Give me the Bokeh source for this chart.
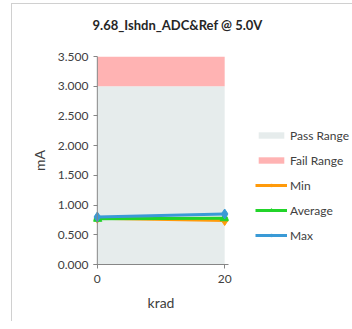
from bokeh.plotting import figure
from bokeh.models import Range1d, Legend, LegendItem, FixedTicker, NumeralTickFormatter, Title, Span
from bokeh.embed import file_html
from bokeh.resources import INLINE

# data
krad = [0, 20]
min_vals = [0.78, 0.74]
avg_vals = [0.77, 0.78]
max_vals = [0.80, 0.85]
pass_lo, pass_hi = 0.0, 3.0
fail_lo, fail_hi = 3.0, 3.5
y_ticks = [0.0, 0.5, 1.0, 1.5, 2.0, 2.5, 3.0, 3.5]
x_ticks = [0, 20]

FONT = "Lato"
GRAY = "#868686"
TXT = "#404040"
PAD = 0.6

p = figure(output_backend="svg", toolbar_location=None,
           frame_width=135, frame_height=208,
           min_border_left=81, min_border_top=52, min_border_bottom=57, min_border_right=0,
           x_range=Range1d(krad[0] - PAD, krad[-1] + PAD), y_range=Range1d(0, 3.5),
           background_fill_color="white", border_fill_color="white",
           outline_line_color=None,
           styles={"border-left": "1px solid #D0D0D0", "border-top": "1px solid #D0D0D0",
                   "margin-left": "11px", "margin-top": "3px"})

spacer = Title(text=" ", text_font_size="1px", standoff=13)
p.add_layout(spacer, "above")
t = Title(text="9.68_Ishdn_ADC&Ref @ 5.0V", align="left", offset=-1,
          text_font=FONT, text_font_size="13px", text_font_style="bold",
          text_color="#262626", standoff=16)
p.add_layout(t, "above")

p.grid.visible = False

r_pass = p.varea(x=krad, y1=[pass_lo] * len(krad), y2=[pass_hi] * len(krad), fill_color="#E6ECEC")
r_fail = p.varea(x=krad, y1=[fail_lo] * len(krad), y2=[fail_hi] * len(krad), fill_color="#FFB3B3")

p.add_layout(Span(location=krad[0], dimension="height", line_color=GRAY, line_width=1))

r_min_l = p.line(krad, min_vals, line_color="#FF9A0A", line_width=3)
r_min_m = p.scatter(krad, min_vals, marker="diamond", size=10, fill_color="#FF9A0A", line_color="#FF9A0A")
r_avg_l = p.line(krad, avg_vals, line_color="#22D42A", line_width=3)
r_avg_m = p.scatter(krad, avg_vals, marker="triangle", size=9, fill_color="#22D42A", line_color="#22D42A")
r_max_l = p.line(krad, max_vals, line_color="#3A9AD6", line_width=3)
r_max_m = p.scatter(krad, max_vals, marker="diamond", size=10, fill_color="#3A9AD6", line_color="#3A9AD6")

legend = Legend(items=[
    LegendItem(label="Pass Range", renderers=[r_pass]),
    LegendItem(label="Fail Range", renderers=[r_fail]),
    LegendItem(label="Min", renderers=[r_min_l, r_min_m]),
    LegendItem(label="Average", renderers=[r_avg_l, r_avg_m]),
    LegendItem(label="Max", renderers=[r_max_l, r_max_m]),
], location=(27, 19), margin=0, padding=0, spacing=5,
   glyph_width=32, glyph_height=8, label_height=20, label_standoff=3,
   label_text_font=FONT, label_text_font_size="12px", label_text_color=TXT,
   border_line_color=None, background_fill_alpha=0)
p.add_layout(legend, "right")

p.yaxis.ticker = FixedTicker(ticks=y_ticks)
p.yaxis.formatter = NumeralTickFormatter(format="0.000")
p.xaxis.ticker = FixedTicker(ticks=x_ticks)
for ax in (p.xaxis, p.yaxis):
    ax.axis_line_color = GRAY
    ax.major_tick_line_color = GRAY
    ax.minor_tick_line_color = None
    ax.major_label_text_font = FONT
    ax.major_label_text_font_size = "12px"
    ax.major_label_text_color = TXT
    ax.axis_label_text_font = FONT
    ax.axis_label_text_font_size = "14px"
    ax.axis_label_text_font_style = "normal"
    ax.axis_label_text_color = TXT
p.xaxis.major_tick_out = 4
p.xaxis.major_tick_in = 0
p.yaxis.axis_line_color = None
p.yaxis.major_tick_out = 0
p.yaxis.major_tick_in = 4
p.yaxis.axis_label = "mA"
p.xaxis.axis_label = "krad"
p.yaxis.major_label_standoff = 5
p.xaxis.major_label_standoff = 6
p.xaxis.axis_label_standoff = 8
p.yaxis.axis_label_standoff = 7

open("out.html", "w").write(file_html(p, INLINE))
